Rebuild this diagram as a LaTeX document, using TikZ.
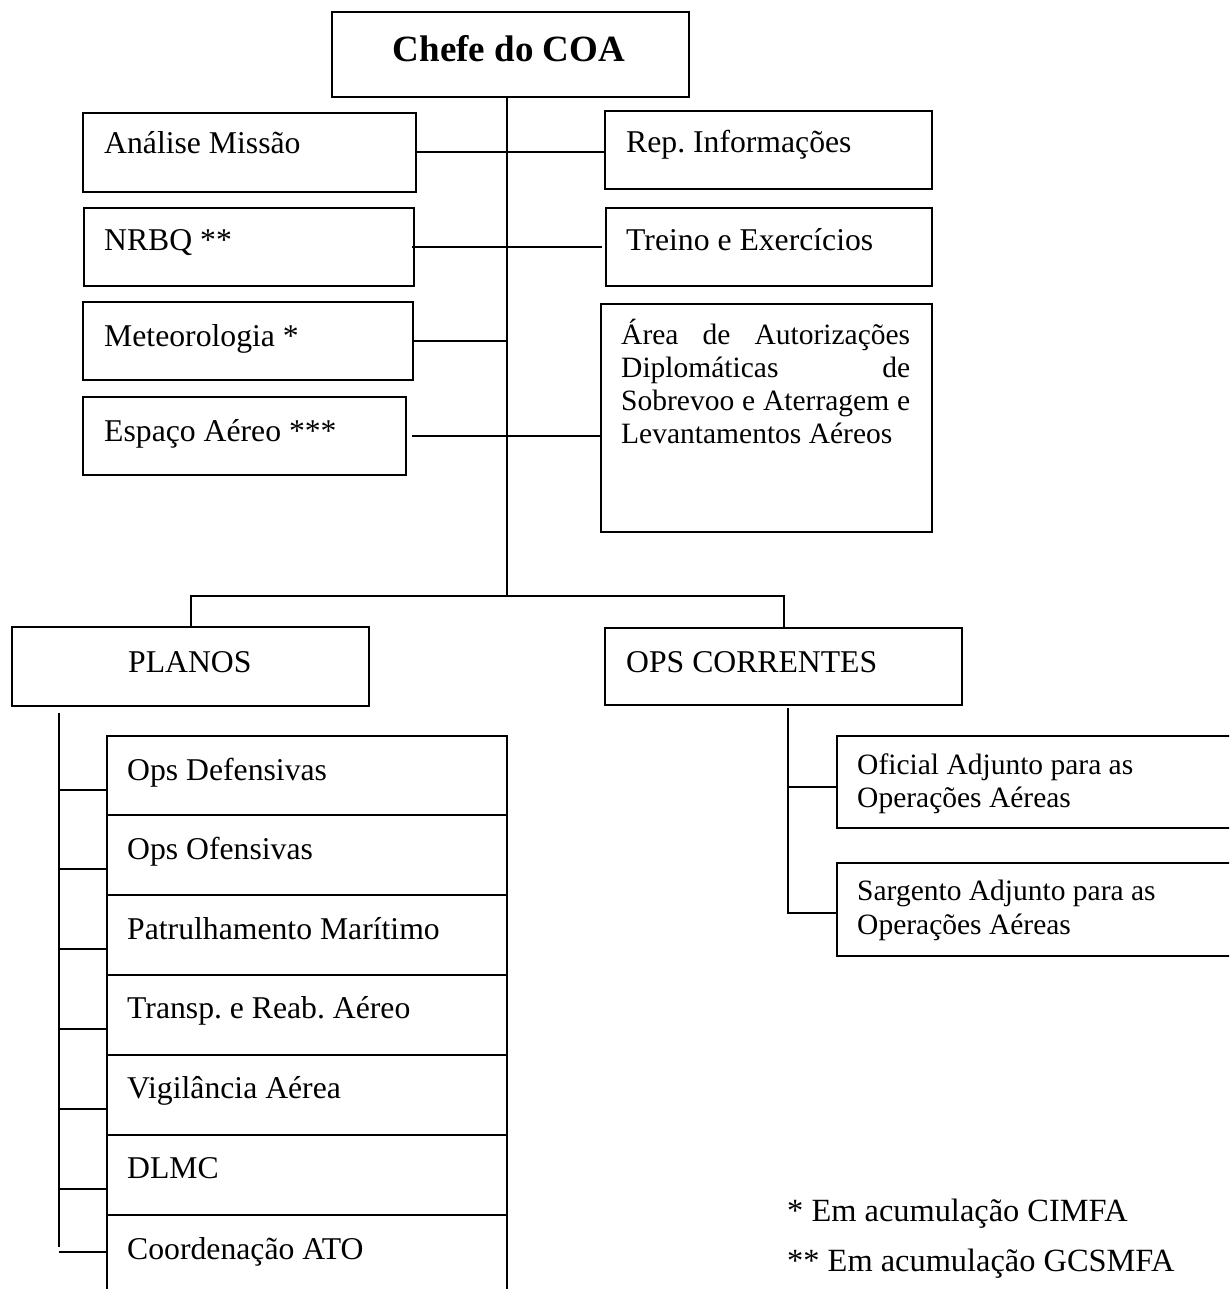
\documentclass[tikz,border=0pt]{standalone}
\usepackage{fontspec}
\setmainfont{Liberation Serif}
\usetikzlibrary{calc}
\frenchspacing
\begin{document}
\begin{tikzpicture}[x=1pt,y=-1pt,
  box/.style={draw=black, line width=2pt, rectangle, inner sep=0pt, outer sep=0pt, anchor=north west},
  conn/.style={draw=black, line width=2pt},
  lbl/.style={anchor=base west, inner sep=0pt, font=\fontsize{31.7}{36}\selectfont},
  lblsm/.style={anchor=base west, inner sep=0pt, font=\fontsize{29.5}{33}\selectfont},
  ttl/.style={anchor=base, inner sep=0pt, font=\bfseries\fontsize{37}{42}\selectfont}]
\useasboundingbox (0,0) rectangle (1229,1289);
\clip (0,0) rectangle (1229,1289);
\fill[white] (0,0) rectangle (1229,1289);

% ---- top ----
\node[box, minimum width=357pt, minimum height=85pt] (chefe) at (332,12) {};
\node[ttl] (tchefe) at (509,62) {Chefe do COA};

\node[box, minimum width=333pt, minimum height=79pt] (am) at (83,113) {};
\node[lbl] (tam) at (104,154) {Análise Missão};
\node[box, minimum width=327pt, minimum height=78pt] (rep) at (605,111) {};
\node[lbl] (trep) at (626,153) {Rep. Informações};

\node[box, minimum width=330pt, minimum height=78pt] (nrbq) at (84,208) {};
\node[lbl] (tnrbq) at (104,251) {NRBQ **};
\node[box, minimum width=326pt, minimum height=78pt] (treino) at (606,208) {};
\node[lbl] (ttreino) at (626,251) {Treino e Exercícios};

\node[box, minimum width=330pt, minimum height=78pt] (met) at (83,302) {};
\node[lbl] (tmet) at (104,346) {Meteorologia *};
\node[box, minimum width=323pt, minimum height=78pt] (esp) at (83,397) {};
\node[lbl] (tesp) at (104,441) {Espaço Aéreo ***};

\node[box, minimum width=331pt, minimum height=228pt] (area) at (601,304) {};
\node[lblsm] (tarea1) at (621,344) {\makebox[289pt][s]{Área de Autorizações}};
\node[lblsm] (tarea2) at (621,377) {\makebox[289pt][s]{Diplomáticas de}};
\node[lblsm] (tarea3) at (621,410) {\makebox[289pt][s]{Sobrevoo e Aterragem e}};
\node[lblsm] (tarea4) at (621,443) {Levantamentos Aéreos};

% trunk and side connectors
\coordinate (jn) at (507,596);
\draw[conn] (chefe.south -| jn) -- (jn);
\draw[conn] (am.east) -- (am.east -| rep.west);
\draw[conn] ([xshift=-2pt]nrbq.east) -- ([xshift=-4pt]nrbq.east -| treino.west);
\draw[conn] (met.east) -- (met.east -| jn);
\draw[conn] ([xshift=6pt]esp.east) -- (esp.east -| area.west);

% ---- second level ----
\node[box, minimum width=357pt, minimum height=79pt] (planos) at (12,627) {};
\node[lbl] (tplanos) at (128,672) {PLANOS};
\node[box, minimum width=357pt, minimum height=77pt] (ops) at (605,628) {};
\node[lbl] (tops) at (626,672) {OPS CORRENTES};
\draw[conn] (planos.north) |- (jn) -| (ops.north);

% ---- PLANOS list ----
\node[box, minimum width=400pt, minimum height=79pt] (s1) at (107,736) {};
\node[box, minimum width=400pt, minimum height=80pt] (s2) at (107,815) {};
\node[box, minimum width=400pt, minimum height=80pt] (s3) at (107,895) {};
\node[box, minimum width=400pt, minimum height=80pt] (s4) at (107,975) {};
\node[box, minimum width=400pt, minimum height=80pt] (s5) at (107,1055) {};
\node[box, minimum width=400pt, minimum height=80pt] (s6) at (107,1135) {};
\node[box, minimum width=400pt, minimum height=110pt] (s7) at (107,1215) {};
\node[lbl] (ts1) at (127,780) {Ops Defensivas};
\node[lbl] (ts2) at (127,859) {Ops Ofensivas};
\node[lbl] (ts3) at (127,939) {Patrulhamento Marítimo};
\node[lbl] (ts4) at (127,1018) {Transp. e Reab. Aéreo};
\node[lbl] (ts5) at (127,1098) {Vigilância Aérea};
\node[lbl] (ts6) at (127,1178) {DLMC};
\node[lbl] (ts7) at (127,1259) {Coordenação ATO};

\coordinate (ps) at (59,713);
\coordinate (pe) at (59,1247);
\draw[conn] (ps) -- (pe);
\foreach \s in {s1,s2,s3,s4,s5,s6}{
  \draw[conn] ([yshift=-54pt]\s.north west) -- ([yshift=-54pt]\s.north west -| ps);
}
\draw[conn] ([yshift=-37pt]s7.north west) -- ([yshift=-37pt]s7.north west -| ps);

% ---- OPS CORRENTES list ----
\node[box, minimum width=423pt, minimum height=92pt] (ofi) at (837,736) {};
\node[box, minimum width=423pt, minimum height=93pt] (sarg) at (837,863) {};
\node[lblsm] (tofi1) at (857,774) {Oficial Adjunto para as};
\node[lblsm] (tofi2) at (857,807) {Operações Aéreas};
\node[lblsm] (tsarg1) at (857,900) {Sargento Adjunto para as};
\node[lblsm] (tsarg2) at (857,934) {Operações Aéreas};

\coordinate (os) at (788,708);
\draw[conn] (os) |- ([yshift=-50pt]sarg.north west);
\draw[conn] ([yshift=-51pt]ofi.north west) -- ([yshift=-51pt]ofi.north west -| os);

% ---- footnotes ----
\node[lbl, font=\fontsize{32.4}{36}\selectfont] (fn1) at (787,1221) {* Em acumulação CIMFA};
\node[lbl, font=\fontsize{32.4}{36}\selectfont] (fn2) at (787,1271) {** Em acumulação GCSMFA};
\end{tikzpicture}
\end{document}
